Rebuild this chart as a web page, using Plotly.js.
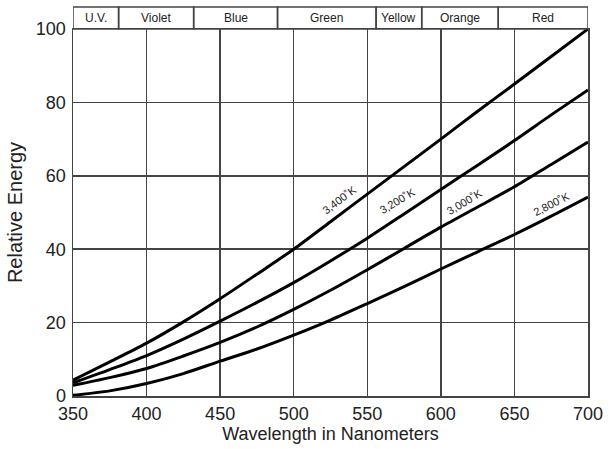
<!DOCTYPE html>
<html>
<head>
<meta charset="utf-8">
<script src="https://cdn.plot.ly/plotly-3.0.1.min.js"></script>
<style>html,body{margin:0;padding:0;background:#fff}#chart{width:614px;height:449px}</style>
</head>
<body>
<div id="chart"></div>
<script>
// Wavelengths (nm)
const wavelengths = [350, 375, 400, 425, 450, 475, 500, 525, 550, 575, 600, 625, 650, 675, 700];
// Relative energy for each colour temperature
const k3400 = [4.3, 9.3, 14.4, 20.2, 26.5, 33.2, 40.0, 47.5, 55.0, 62.5, 70.0, 77.6, 85.0, 92.5, 100.0];
const k3200 = [3.6, 7.2, 11.0, 15.5, 20.4, 25.5, 30.9, 36.8, 43.0, 49.6, 56.3, 62.9, 69.6, 76.6, 83.4];
const k3000 = [2.9, 5.0, 7.5, 10.9, 14.6, 18.8, 23.6, 28.8, 34.4, 40.2, 46.0, 51.5, 57.0, 63.1, 69.2];
const k2800 = [0.2, 1.4, 3.4, 6.1, 9.5, 12.8, 16.6, 20.7, 25.2, 29.8, 34.6, 39.3, 44.0, 49.0, 54.2];
const seriesNames = ["3,400˚K", "3,200˚K", "3,000˚K", "2,800˚K"];
// Curve label positions (x nm, y energy) and angles
const labelX = [530.8, 570.3, 615.8, 675];
const labelY = [53.4, 53.1, 52.9, 52.3];
const labelAngle = [-37, -31, -31, -27];
// Spectrum bands
const bandNames = ["U.V.", "Violet", "Blue", "Green", "Yellow", "Orange", "Red"];
const bandEdges = [350, 381, 432, 489, 556, 587, 639, 700];

const allSeries = [k3400, k3200, k3000, k2800];
const traces = allSeries.map((ys, i) => ({
  x: wavelengths, y: ys, type: 'scatter', mode: 'lines', name: seriesNames[i],
  line: {color: '#000', width: 3, shape: 'spline', smoothing: 0.8},
  hoverinfo: 'x+y'
}));

const headerTop = 1.06;
const shapes = [];
for (let i = 0; i < bandNames.length; i++) {
  shapes.push({type: 'rect', xref: 'x', yref: 'paper', x0: bandEdges[i], x1: bandEdges[i+1],
    y0: 1, y1: headerTop, line: {color: '#444', width: 1.5}, fillcolor: 'rgba(0,0,0,0)'});
}
const annotations = bandNames.map((b, i) => ({
  x: (bandEdges[i] + bandEdges[i+1]) / 2, y: (1 + headerTop) / 2, xref: 'x', yref: 'paper',
  text: b, showarrow: false, font: {family: 'Liberation Sans, Arial, sans-serif', size: 12, color: '#222'},
  xanchor: 'center', yanchor: 'middle'
}));
seriesNames.forEach((n, i) => annotations.push({
  x: labelX[i], y: labelY[i], xref: 'x', yref: 'y', text: n, showarrow: false,
  textangle: labelAngle[i], font: {family: 'Liberation Sans, Arial, sans-serif', size: 11, color: '#222'}
}));

const layout = {
  width: 614, height: 449,
  margin: {l: 73, r: 26, t: 29, b: 53},
  paper_bgcolor: '#fff', plot_bgcolor: '#fff',
  showlegend: false,
  font: {family: 'Liberation Sans, Arial, sans-serif', color: '#222'},
  xaxis: {
    range: [350, 700], dtick: 50, tick0: 350, showgrid: true, gridcolor: '#444', gridwidth: 1.5,
    zeroline: false, showline: true, linecolor: '#444', linewidth: 1.5, mirror: true, ticks: '',
    tickfont: {size: 18, color: '#222'}, ticklabelstandoff: 1,
    title: {text: 'Wavelength in Nanometers', font: {size: 18, color: '#222'}, standoff: 3}
  },
  yaxis: {
    range: [0, 100], dtick: 20, showgrid: true, gridcolor: '#444', gridwidth: 1.5,
    zeroline: false, showline: true, linecolor: '#444', linewidth: 1.5, mirror: true, ticks: '',
    tickfont: {size: 18, color: '#222'}, ticklabelstandoff: 2,
    title: {text: 'Relative Energy', font: {size: 20, color: '#222'}, standoff: 8}
  },
  shapes: shapes,
  annotations: annotations
};
Plotly.newPlot('chart', traces, layout, {displayModeBar: false, staticPlot: true});
</script>
</body>
</html>
